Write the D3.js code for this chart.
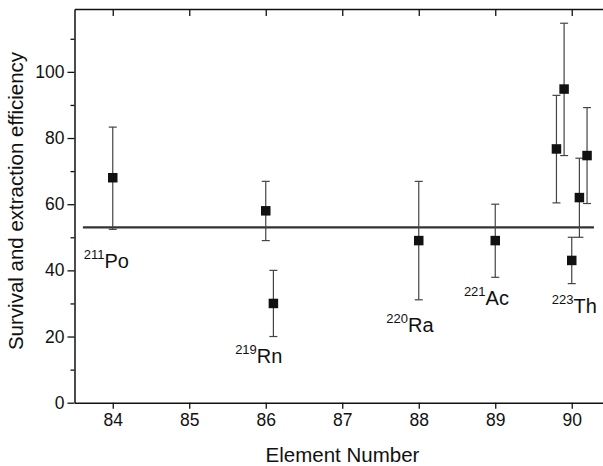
<!DOCTYPE html>
<html>
<head>
<meta charset="utf-8">
<script src="https://cdn.jsdelivr.net/npm/d3@7"></script>
<style>
  body { margin: 0; background: #fff; }
  text { font-family: "Liberation Sans", Arial, sans-serif; fill: #111; }
</style>
</head>
<body>
<svg id="chart" width="603" height="466"></svg>
<script>
// measured points (element number, efficiency, error bar ends)
var elements = [84, 86, 86.1, 88, 89, 89.8, 89.9, 90, 90.1, 90.2];
var values   = [68, 58, 30, 49, 49, 76.7, 94.8, 43, 62, 74.7];
var upper    = [83.3, 66.9, 40, 66.9, 60, 92.9, 114.7, 50, 73.9, 89.2];
var lower    = [52.4, 49, 20, 31.1, 37.9, 60.4, 74.7, 36, 50, 60.2];

// average line
var meanValue = 53;
var meanRange = [83.61, 90.29];

// isotope annotations
var massNumbers = ["211", "219", "220", "221", "223"];
var symbols     = ["Po", "Rn", "Ra", "Ac", "Th"];
var labelX      = [83.62, 85.60, 87.575, 88.59, 89.74];
var labelY      = [40.7, 12.0, 21.4, 29.5, 27.1];

var xTicks = [84, 85, 86, 87, 88, 89, 90];
var yTicks = [0, 20, 40, 60, 80, 100];
var yMinor = [10, 30, 50, 70, 90, 110];

var svg = d3.select("#chart");
var x = d3.scaleLinear().domain([83.5, 90.5]).range([74.5, 610]);
var y = d3.scaleLinear().domain([0, 119]).range([402.7, 9]);
var AXIS = "#111";
var FONT = "Liberation Sans, Arial, sans-serif";

// bottom axis
var bottomAxis = svg.append("g")
    .attr("transform", "translate(0," + y(0) + ")")
    .call(d3.axisBottom(x).tickValues(xTicks).tickSize(6).tickSizeOuter(0).tickPadding(5).tickFormat(d3.format("d")));
bottomAxis.select(".domain").attr("stroke", AXIS).attr("stroke-width", 1.5);
bottomAxis.selectAll(".tick line").attr("stroke", AXIS).attr("stroke-width", 1.3);
bottomAxis.selectAll("text").style("font-size", "17.5px").style("font-family", FONT).attr("fill", "#222");

// top axis (ticks inward, no labels)
var topAxis = svg.append("g")
    .attr("transform", "translate(0," + y(119) + ")")
    .call(d3.axisTop(x).tickValues(xTicks).tickSize(-7).tickSizeOuter(0).tickFormat(""));
topAxis.select(".domain").attr("stroke", AXIS).attr("stroke-width", 1.5);
topAxis.selectAll(".tick line").attr("stroke", AXIS).attr("stroke-width", 1.3);

// left axis, major + minor
var leftAxis = svg.append("g")
    .attr("transform", "translate(" + x(83.5) + ",0)")
    .call(d3.axisLeft(y).tickValues(yTicks).tickSize(7).tickSizeOuter(0).tickPadding(3));
leftAxis.select(".domain").attr("stroke", AXIS).attr("stroke-width", 1.5);
leftAxis.selectAll(".tick line").attr("stroke", AXIS).attr("stroke-width", 1.3);
leftAxis.selectAll("text").style("font-size", "17.5px").style("font-family", FONT).attr("fill", "#222");

var leftMinor = svg.append("g")
    .attr("transform", "translate(" + x(83.5) + ",0)")
    .call(d3.axisLeft(y).tickValues(yMinor).tickSize(4).tickFormat(""));
leftMinor.select(".domain").remove();
leftMinor.selectAll(".tick line").attr("stroke", AXIS).attr("stroke-width", 1.3);

// axis titles
svg.append("text")
    .attr("x", 342.5)
    .attr("y", 462)
    .attr("text-anchor", "middle")
    .style("font-size", "20.5px")
    .attr("fill", "#222")
    .text("Element Number");

svg.append("text")
    .attr("transform", "translate(23,201) rotate(-90)")
    .attr("text-anchor", "middle")
    .style("font-size", "20.5px")
    .attr("fill", "#222")
    .text("Survival and extraction efficiency");

// mean line
svg.append("line")
    .attr("x1", x(meanRange[0]))
    .attr("x2", x(meanRange[1]))
    .attr("y1", y(meanValue))
    .attr("y2", y(meanValue))
    .attr("stroke", "#333")
    .attr("stroke-width", 2.2);

// error bars
var CAP = 4;
var bars = svg.append("g").selectAll("g")
    .data(elements)
    .enter()
    .append("g")
    .attr("stroke", "#444")
    .attr("stroke-width", 1.2);

bars.append("line")
    .attr("x1", function (d) { return x(d); })
    .attr("x2", function (d) { return x(d); })
    .attr("y1", function (d, i) { return y(upper[i]); })
    .attr("y2", function (d, i) { return y(lower[i]); });
bars.append("line")
    .attr("x1", function (d) { return x(d) - CAP; })
    .attr("x2", function (d) { return x(d) + CAP; })
    .attr("y1", function (d, i) { return y(upper[i]); })
    .attr("y2", function (d, i) { return y(upper[i]); });
bars.append("line")
    .attr("x1", function (d) { return x(d) - CAP; })
    .attr("x2", function (d) { return x(d) + CAP; })
    .attr("y1", function (d, i) { return y(lower[i]); })
    .attr("y2", function (d, i) { return y(lower[i]); });

// square markers
var SIZE = 9.5;
svg.append("g").selectAll("rect")
    .data(elements)
    .enter()
    .append("rect")
    .attr("x", function (d) { return x(d) - SIZE / 2; })
    .attr("y", function (d, i) { return y(values[i]) - SIZE / 2; })
    .attr("width", SIZE)
    .attr("height", SIZE)
    .attr("fill", "#111");

// isotope labels
var labels = svg.append("g").selectAll("text")
    .data(symbols)
    .enter()
    .append("text")
    .attr("x", function (d, i) { return x(labelX[i]); })
    .attr("y", function (d, i) { return y(labelY[i]); })
    .attr("fill", "#222");
labels.append("tspan")
    .attr("dy", -9)
    .style("font-size", "13px")
    .text(function (d, i) { return massNumbers[i]; });
labels.append("tspan")
    .attr("dy", 9)
    .style("font-size", "20px")
    .text(function (d) { return d; });
</script>
</body>
</html>
